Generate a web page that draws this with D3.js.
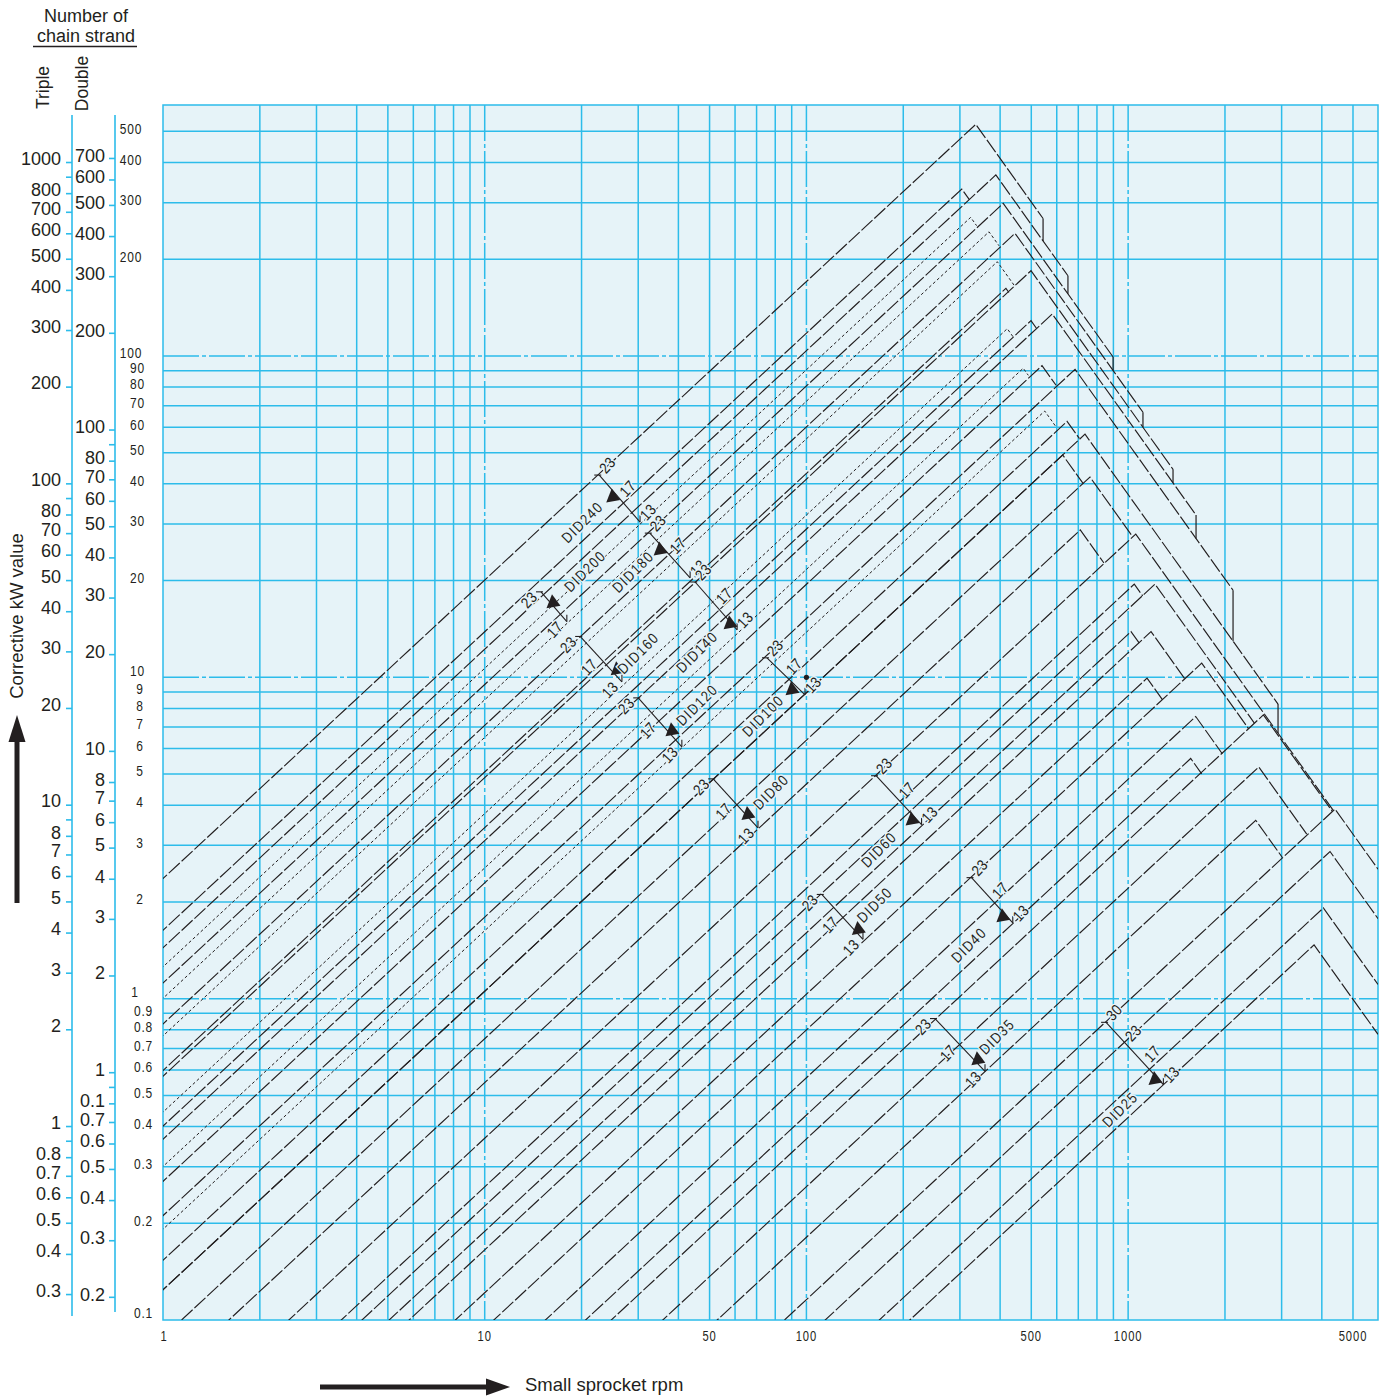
<!DOCTYPE html>
<html><head><meta charset="utf-8">
<script src="https://cdn.jsdelivr.net/npm/d3@7"></script>
<style>body{margin:0;background:#fff}svg{display:block}</style>
</head><body><svg id="c" width="1379" height="1396"></svg>
<script>
// ---------------- DATA ----------------
const xTickLabels = [1, 10, 50, 100, 500, 1000, 5000];
const vGrid = [2,3,4,5,6,7,8,9,10,20,30,40,50,60,70,80,90,100,200,300,400,500,600,700,800,900,1000,2000,3000,4000,5000];
const vDecades = [10, 100, 1000];
const hGrid = [0.2,0.3,0.4,0.5,0.6,0.7,0.8,0.9,1,2,3,4,5,6,7,8,9,10,20,30,40,50,60,70,80,90,100,200,300,400,500];
const hDecades = [1, 10, 100];

const singleLabels = [500,400,300,200,100,90,80,70,60,50,40,30,20,10,9,8,7,6,5,4,3,2,1,0.9,0.8,0.7,0.6,0.5,0.4,0.3,0.2,0.1];
const doubleFactor = 1.7;
const doubleTicks = [700,600,500,400,300,200,100,90,80,70,60,50,40,30,20,10,8,7,6,5,4,3,2,1,0.9,0.8,0.7,0.6,0.5,0.4,0.3,0.2];
const doubleLabelValues = [700,600,500,400,300,200,100,80,70,60,50,40,30,20,10,8,7,6,5,4,3,2,1,0.8,0.7,0.6,0.5,0.4,0.3,0.2];
const doubleLabelText = ["700","600","500","400","300","200","100","80","70","60","50","40","30","20","10","8","7","6","5","4","3","2","1","0.1","0.7","0.6","0.5","0.4","0.3","0.2"];
const tripleFactor = 2.5;
const tripleTicks = [1000,900,800,700,600,500,400,300,200,100,90,80,70,60,50,40,30,20,10,9,8,7,6,5,4,3,2,1,0.9,0.8,0.7,0.6,0.5,0.4,0.3];
const tripleLabels = [1000,800,700,600,500,400,300,200,100,80,70,60,50,40,30,20,10,8,7,6,5,4,3,2,1,0.8,0.7,0.6,0.5,0.4,0.3];

// rating lines (rise to a peak, then fall)
const riseSlope = 0.929;   // log-log slope of rising lines
const fallSlope = 1.40;    // log-log slope of falling lines
const lineChain = ["DID240","DID240","DID200","DID240","DID180","DID200","DID160","DID200","DID160","DID140","DID160","DID140","DID120","DID140","DID120","DID100","DID120","DID100","DID80","DID100","DID80","DID80","DID60","DID60","DID50","DID60","DID50","DID40","DID50","DID40","DID40","DID35","DID35","DID35","DID25","DID25","DID25","DID25"];
const lineTeeth = [23,17,23,13,23,17,23,13,17,23,13,17,23,13,17,23,13,17,23,13,17,13,23,17,23,13,17,23,13,17,13,23,17,13,30,23,17,13];
const lineDotted = [0,0,0,1,0,1,0,1,0,0,1,0,0,1,0,0,1,0,0,0,0,0,0,0,0,0,0,0,0,0,0,0,0,0,0,0,0,0];
const peakRPM = [336,304,388,324,409,369.5,445,392,417,499,421,499,581,472,540,684,550.5,646,734.5,626,761,710,1056,1045,1212,1021,1178,1693,1145,1622,1565,2633,2547,2493,4397,4242,4044,3784];
const peakKW  = [525.7,330.7,366,270,298.5,243.5,240.8,196.5,162.4,184.2,121.6,128.8,135.1,91.6,93.3,90.9,67.4,62.6,57.1,49.2,42.0,28.75,27.9,19.5,19.5,13.88,13.88,11.07,9.94,7.55,5.59,7.64,5.26,3.59,3.89,2.87,1.915,1.47];
const fallEndRPM = [544,321,650,338,898,397,1112,442,426,1379,440,520,1626,489.5,597,2119,597,705,2924,726,1033,841,4330,1110,2468,1083,1501,2367,1278,1962,1693,4316,3591,3016,null,null,null,null];
const stepTo = [2,-1,4,-1,6,-1,9,-1,-1,12,-1,-1,15,-1,-1,18,-1,-1,22,-1,-1,-1,-1,-1,-1,-1,-1,-1,-1,-1,-1,-1,-1,-1,-1,-1,-1,-1];

// chain markers
const chainNames = ["DID240","DID200","DID180","DID160","DID140","DID120","DID100","DID80","DID60","DID50","DID40","DID35","DID25"];
const markerTeeth = [[23,17,13],[23,17],[23,17,13],[23,17,13],[23,17,13],[23,17,13],[23,17,13],[23,17,13],[23,17,13],[23,17,13],[23,17,13],[23,17,13],[30,23,17,13]];
const teethLabelSide = [1,-1,1,-1,1,-1,1,-1,1,-1,1,-1,1];
const markerTopRPM = [22.7,14.96,32.6,19.8,45.1,30.0,75.4,51.3,164.6,111.6,326,251,854];
const markerTopKW  = [42.6,18.45,28.1,13.4,19.8,8.63,11.5,4.83,4.94,2.11,2.38,0.867,0.844];
const markerEndRPM = [30.4,18.0,43.5,26.7,60.9,41.0,99.0,70.7,228,149.9,438,359,1287];
const markerEndKW  = [30.4,14.9,20.4,9.68,14.05,6.08,8.82,3.40,3.48,1.53,1.72,0.594,0.540];
const nameRPM = [20.1,20.5,28.9,30.0,45.7,45.7,73.3,77.6,168,163,320,391,944];
const nameKW  = [30.4,21.4,21.3,11.9,12.0,8.21,7.59,4.40,2.91,1.96,1.47,0.762,0.452];
const arrowRPM = [25.0,16.3,35.1,25.8,57.9,38.2,90.2,65.8,213,145,408,341,1212];
const arrowKW  = [36.4,17.05,24.9,10.55,14.67,6.82,9.15,3.74,3.60,1.64,1.80,0.646,0.560];
const dotPoint = [100, 10];

// ---------------- DRAW ----------------
const svg = d3.select("#c");
const x = d3.scaleLog().domain([1, 5980]).range([163, 1378]);
const y = d3.scaleLog().domain([0.1, 604]).range([1320, 105]);
const CYAN = "#2cbcea", BG = "#e6f3f8", INK = "#231f20";
const SANS = "'Liberation Sans',Arial,Helvetica,sans-serif";
const [X0, X1] = x.range(), [Y0, Y1] = y.range();

// condensed text helper (Liberation Sans squeezed horizontally)
function narrowText(g, txt, px, py, opts) {
  const o = Object.assign({size: 14, rot: 0, sx: 0.82, ls: 1, anchor: "middle", halo: false}, opts || {});
  const t = g.append("text")
    .attr("transform", `translate(${px},${py}) rotate(${o.rot}) scale(${o.sx},1)`)
    .attr("text-anchor", o.anchor).attr("dy", "0.35em")
    .attr("font-family", SANS).attr("font-size", o.size).attr("letter-spacing", o.ls)
    .attr("fill", INK).text(txt);
  if (o.halo) t.attr("stroke", BG).attr("stroke-width", 3).attr("paint-order", "stroke");
  return t;
}

svg.append("rect").attr("x", X0).attr("y", Y1).attr("width", X1 - X0).attr("height", Y0 - Y1).attr("fill", BG);

const grid = svg.append("g").attr("stroke", CYAN).attr("stroke-width", 1.5);
vGrid.forEach(v => {
  grid.append("line").attr("x1", x(v)).attr("x2", x(v)).attr("y1", Y1).attr("y2", Y0)
    .attr("stroke-dasharray", vDecades.includes(v) ? "36,3,4,3" : null);
});
hGrid.forEach(v => {
  grid.append("line").attr("y1", y(v)).attr("y2", y(v)).attr("x1", X0).attr("x2", X1)
    .attr("stroke-dasharray", hDecades.includes(v) ? "36,3,4,3" : null);
});
svg.append("rect").attr("x", X0).attr("y", Y1).attr("width", X1 - X0).attr("height", Y0 - Y1)
  .attr("fill", "none").attr("stroke", CYAN).attr("stroke-width", 1.5);

// chain rating lines
svg.append("clipPath").attr("id", "pc").append("rect")
  .attr("x", X0).attr("y", Y1).attr("width", X1 - X0).attr("height", Y0 - Y1);
const lg = svg.append("g").attr("clip-path", "url(#pc)").attr("fill", "none").attr("stroke", INK);
const path = d3.line().x(d => x(d[0])).y(d => y(d[1]));
const riseAt = (i, r) => peakKW[i] * Math.pow(r / peakRPM[i], riseSlope);
const fallAt = (i, r) => peakKW[i] * Math.pow(r / peakRPM[i], -fallSlope);
peakRPM.forEach((p, i) => {
  const end = fallEndRPM[i] == null ? x.domain()[1] : fallEndRPM[i];
  const pts = [[0.5, riseAt(i, 0.5)], [p, peakKW[i]], [end, fallAt(i, end)]];
  lg.append("path").attr("d", path(pts))
    .attr("stroke-width", lineDotted[i] ? 1 : 1.15)
    .attr("stroke-dasharray", lineDotted[i] ? "3,2.4" : "15,2.5");
  if (stepTo[i] >= 0) {
    const j = stepTo[i];
    lg.append("path").attr("d", path([[end, fallAt(i, end)], [end, fallAt(j, end)]]))
      .attr("stroke-width", 1.2);
  }
});

// markers
const ag = svg.append("g");
chainNames.forEach((name, c) => {
  const ax = x(markerTopRPM[c]), ay = y(markerTopKW[c]);
  const bx = x(markerEndRPM[c]), by = y(markerEndKW[c]);
  ag.append("line").attr("x1", ax).attr("y1", ay).attr("x2", bx).attr("y2", by)
    .attr("stroke", INK).attr("stroke-width", 1.1);
  ag.append("line").attr("x1", ax - 5).attr("y1", ay).attr("x2", ax + 2).attr("y2", ay)
    .attr("stroke", INK).attr("stroke-width", 1.1);
  ag.append("line").attr("x1", bx).attr("y1", by - 7).attr("x2", bx).attr("y2", by)
    .attr("stroke", INK).attr("stroke-width", 1.1);
  const teeth = markerTeeth[c];
  const side = teethLabelSide[c];
  teeth.forEach((t, i) => {
    const f = i / (teeth.length - 1);
    const px = ax + (bx - ax) * f + (side > 0 ? 8 : -12);
    const py = ay + (by - ay) * f + (side > 0 ? -10 : 8);
    narrowText(ag, t, px, py, {size: 15.5, rot: -47, sx: 0.85, ls: 0.6, halo: true});
  });
  const tx = x(arrowRPM[c]), ty = y(arrowKW[c]);
  ag.append("path").attr("transform", `translate(${tx},${ty})`)
    .attr("d", "M-1,-8.5 L-6.5,5.5 L7.5,3 Z").attr("fill", INK);
  narrowText(ag, name, x(nameRPM[c]), y(nameKW[c]), {size: 15, rot: -45, sx: 0.85, ls: 1.6, halo: true});
});
ag.append("circle").attr("cx", x(dotPoint[0])).attr("cy", y(dotPoint[1])).attr("r", 2.6).attr("fill", INK);

// x tick labels
xTickLabels.forEach(v => {
  narrowText(svg, v, x(v) + (v === 1 ? 1 : 0), 1336, {size: 14, sx: 0.8, ls: 1.2});
});

// single-strand labels
const singleX = v => v >= 100 ? 131 : v >= 10 ? 137.5 : v > 1 ? 140 : v === 1 ? 135 : 143.5;
singleLabels.forEach(v => {
  const off = [0.1, 1, 10].includes(v) ? -7 : -3;
  narrowText(svg, v, singleX(v), y(v) + off, {size: 15, sx: 0.8, ls: 1});
});

// double & triple axes
const axCol = svg.append("g").attr("stroke", CYAN).attr("stroke-width", 1.6);
axCol.append("line").attr("x1", 72).attr("x2", 72).attr("y1", 115).attr("y2", 1316);
axCol.append("line").attr("x1", 115).attr("x2", 115).attr("y1", 115).attr("y2", 1312);
doubleTicks.forEach(v => {
  axCol.append("line").attr("x1", 109).attr("x2", 115).attr("y1", y(v / doubleFactor)).attr("y2", y(v / doubleFactor));
});
tripleTicks.forEach(v => {
  axCol.append("line").attr("x1", 66).attr("x2", 72).attr("y1", y(v / tripleFactor)).attr("y2", y(v / tripleFactor));
});
doubleLabelValues.forEach((v, i) => {
  svg.append("text").attr("x", 105).attr("y", y(v / doubleFactor) - 3).attr("dy", "0.35em")
    .attr("text-anchor", "end").attr("font-family", SANS).attr("font-size", 18).attr("fill", INK)
    .text(doubleLabelText[i]);
});
tripleLabels.forEach(v => {
  svg.append("text").attr("x", 61).attr("y", y(v / tripleFactor) - 4).attr("dy", "0.35em")
    .attr("text-anchor", "end").attr("font-family", SANS).attr("font-size", 18).attr("fill", INK)
    .text(v);
});

// headers
const hdr = (t, px, py, rot, size, anchor) => svg.append("text")
  .attr("transform", `translate(${px},${py}) rotate(${rot})`).attr("text-anchor", anchor || "middle")
  .attr("font-family", SANS).attr("font-size", size).attr("fill", INK).text(t);
hdr("Number of", 86, 22, 0, 18);
hdr("chain strand", 86, 41.5, 0, 18);
svg.append("line").attr("x1", 33).attr("x2", 137).attr("y1", 46.5).attr("y2", 46.5).attr("stroke", INK).attr("stroke-width", 1.3);
hdr("Triple", 48.5, 87.5, -90, 17.5);
hdr("Double", 87.5, 83.5, -90, 17.5);
hdr("Corrective kW value", 22.5, 616, -90, 18.5);
hdr("Small sprocket rpm", 525, 1391, 0, 18.5, "start");

// arrows
svg.append("rect").attr("x", 14.5).attr("y", 738).attr("width", 5).attr("height", 165).attr("fill", INK);
svg.append("path").attr("d", "M17,715 L25.5,742 L8.5,742 Z").attr("fill", INK);
svg.append("rect").attr("x", 320).attr("y", 1384.5).attr("width", 172).attr("height", 5).attr("fill", INK);
svg.append("path").attr("d", "M510,1387 L486,1378.5 L486,1395.5 Z").attr("fill", INK);
</script></body></html>
